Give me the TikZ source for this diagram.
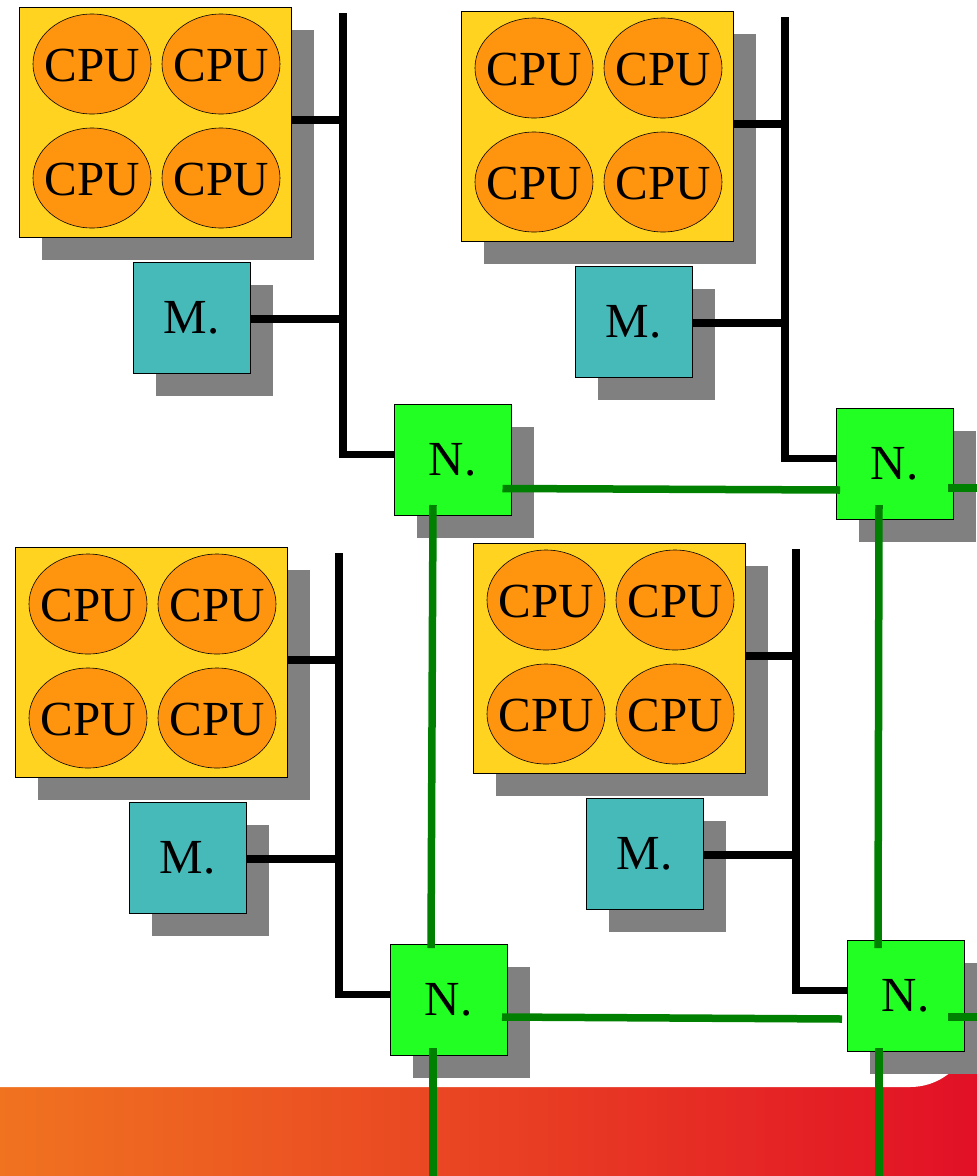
\documentclass[tikz,border=0pt]{standalone}
\usepackage{fontspec}
\setmainfont{Liberation Serif}
\usetikzlibrary{shapes.geometric,shadows}
\definecolor{yel}{RGB}{255,211,32}
\definecolor{cpuor}{RGB}{255,149,14}
\definecolor{memc}{RGB}{70,185,185}
\definecolor{netc}{RGB}{34,255,34}
\definecolor{shad}{RGB}{128,128,128}
\definecolor{lnk}{RGB}{0,128,0}
\definecolor{bandL}{RGB}{240,115,32}
\definecolor{bandM}{RGB}{235,80,34}
\definecolor{bandR}{RGB}{226,16,38}
\tikzset{
  shad/.style={drop shadow={shadow xshift=23pt,shadow yshift=-23pt,fill=shad,opacity=1}},
  bigtext/.style={font=\fontsize{49}{49}\selectfont},
  board/.style={draw=black,line width=0.8pt,fill=yel,minimum width=272pt,minimum height=230pt,inner sep=0pt,shad},
  cpu/.style={ellipse,draw=black,line width=0.6pt,fill=cpuor,minimum width=118pt,minimum height=100pt,inner sep=0pt,label={[bigtext,inner sep=0pt,yshift=-2pt]center:CPU}},
  membox/.style={draw=black,line width=0.8pt,fill=memc,minimum width=117pt,minimum height=111pt,inner sep=0pt,shad,bigtext},
  netbox/.style={draw=black,line width=0.8pt,fill=netc,minimum width=117pt,minimum height=111pt,inner sep=0pt,shad,bigtext},
  bus/.style={draw=black,line width=7.5pt},
  glink/.style={draw=lnk,line width=7.5pt}
}
\newcommand\cpumod[5]{%
  \node[board] (y#1) at #2 {};
  \node[cpu] (c#1a) at ([shift={(-63,-58)}]y#1.center) {};
  \node[cpu] (c#1b) at ([shift={(66,-58)}]y#1.center) {};
  \node[cpu] (c#1c) at ([shift={(-63,56)}]y#1.center) {};
  \node[cpu] (c#1d) at ([shift={(66,56)}]y#1.center) {};
  \node[membox] (m#1) at #3 {M.};
  \node[netbox] (n#1) at #4 {N.};
  \coordinate (t#1) at #5;
  \coordinate (nw#1) at ([yshift=5pt]n#1.west);
  \coordinate (ye#1) at ([yshift=2pt]y#1.east);
  \coordinate (me#1) at ([yshift=-1.5pt]m#1.east);
  \draw[bus] (t#1) -- (t#1 |- nw#1) -- (nw#1);
  \draw[bus] (ye#1) -- (ye#1 -| t#1);
  \draw[bus] (me#1) -- (me#1 -| t#1);
}
\begin{document}
\begin{tikzpicture}[x=1pt,y=-1pt]
\useasboundingbox (0,0) rectangle (977,1176);
\shade[left color=bandL,middle color=bandM,right color=bandR] (0,1000) rectangle (977,1176);
\fill[white,rounded corners=63pt] (-200,-200) rectangle (973,1087);
\cpumod{1}{(155,122)}{(191.5,317.5)}{(452.5,459.5)}{(343,13)}
\cpumod{2}{(597,126)}{(633.5,321.5)}{(894.5,463.5)}{(785,17)}
\cpumod{3}{(151,662)}{(187.5,857.5)}{(448.5,999.5)}{(339,553)}
\cpumod{4}{(609,658)}{(644.5,853.5)}{(905.5,995.5)}{(796,549)}
\coordinate (e2) at (977,488);
\coordinate (e4) at (977,1017);
\coordinate (b3) at (433,1176);
\coordinate (b4) at (879,1176);
\draw[glink] ([shift={(50,29)}]n1.center) -- ([shift={(-54.5,26.5)}]n2.center);
\draw[glink] ([shift={(53.5,24.5)}]n2.center) -- (e2);
\draw[glink] ([shift={(-19.5,45.5)}]n1.center) -- ([shift={(-17.5,-51.5)}]n3.center);
\draw[glink] ([shift={(-15.5,41.5)}]n2.center) -- ([shift={(-27.5,-47.5)}]n4.center);
\draw[glink] ([shift={(53.5,17.5)}]n3.center) -- ([shift={(-63.5,23.5)}]n4.center);
\draw[glink] ([shift={(42.5,21.5)}]n4.center) -- (e4);
\draw[glink] ([shift={(-15.5,48.5)}]n3.center) -- (b3);
\draw[glink] ([shift={(-26.5,52.5)}]n4.center) -- (b4);
\end{tikzpicture}
\end{document}
